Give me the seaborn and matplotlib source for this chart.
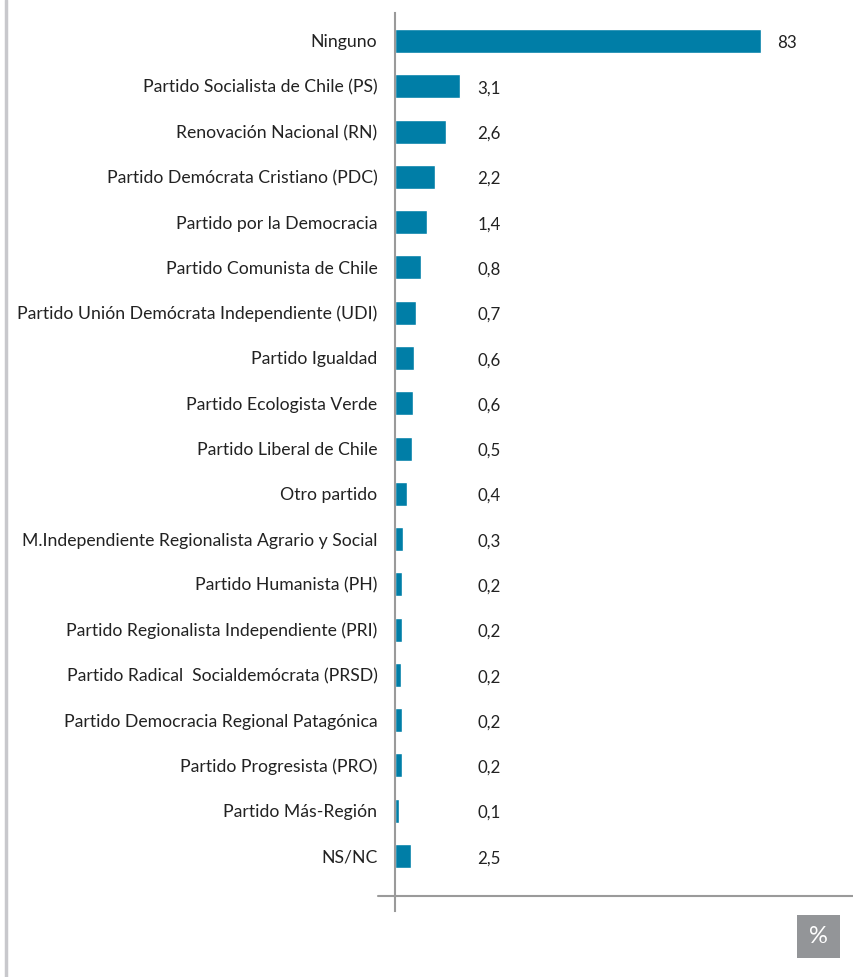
import numpy as np
import pandas as pd
import seaborn as sns
import matplotlib.pyplot as plt
from matplotlib.lines import Line2D
from matplotlib.patches import Rectangle

# Party preference (%)
partidos = [
    "Ninguno",
    "Partido Socialista de Chile (PS)",
    "Renovación Nacional (RN)",
    "Partido Demócrata Cristiano (PDC)",
    "Partido por la Democracia",
    "Partido Comunista de Chile",
    "Partido Unión Demócrata Independiente (UDI)",
    "Partido Igualdad",
    "Partido Ecologista Verde",
    "Partido Liberal de Chile",
    "Otro partido",
    "M.Independiente Regionalista Agrario y Social",
    "Partido Humanista (PH)",
    "Partido Regionalista Independiente (PRI)",
    "Partido Radical  Socialdemócrata (PRSD)",
    "Partido Democracia Regional Patagónica",
    "Partido Progresista (PRO)",
    "Partido Más-Región",
    "NS/NC",
]
valores = ["83", "3,1", "2,6", "2,2", "1,4", "0,8", "0,7", "0,6", "0,6", "0,5",
           "0,4", "0,3", "0,2", "0,2", "0,2", "0,2", "0,2", "0,1", "2,5"]
# bar lengths as drawn in the original (not proportional to the values)
largo_barra = [366, 65, 51, 40, 32, 26, 21, 19, 18, 17,
               12, 8, 7, 7, 6, 7, 7, 4, 16]

df = pd.DataFrame({"partido": partidos, "largo": largo_barra, "valor": valores})

sns.set_style("white")
plt.rcParams["font.family"] = ["Lato", "DejaVu Sans"]

W, H = 854, 977
fig = plt.figure(figsize=(W / 100, H / 100), dpi=100)
ax = fig.add_axes([395.5 / W, 1 - 911 / H, (W - 395.5) / W, (911 - 13) / H])

sns.barplot(data=df, x="largo", y="partido", color="#007ea7", saturation=1,
            width=0.53, orient="h", ax=ax)

paso = 45.28
ax.set_ylim((911 - 41) / paso, -(41 - 13) / paso)
ax.set_xlim(0, W - 395.5)

for i, (l, v) in enumerate(zip(largo_barra, valores)):
    x = l + 16 if l > 100 else 82
    ax.text(x, i + 0.05, v, ha="left", va="center", fontsize=12.2, color="#222222")

ax.set_xlabel("")
ax.set_ylabel("")
ax.set_xticks([])
ax.tick_params(axis="y", length=0, pad=13, labelsize=12.7, labelcolor="#222222")
for s in ["top", "right", "bottom"]:
    ax.spines[s].set_visible(False)
ax.spines["left"].set_color("#9a9a9a")
ax.spines["left"].set_linewidth(1.5)

# horizontal base line
fig.add_artist(Line2D([378 / W, 853 / W], [1 - 896 / H, 1 - 896 / H],
                      color="#9a9a9a", lw=1.5))
# left frame line
fig.add_artist(Line2D([6 / W, 6 / W], [0, 1], color="#c8c8cc", lw=2.5))
# % badge
fig.add_artist(Rectangle((797 / W, 1 - 958 / H), 43 / W, 43 / H,
                         facecolor="#939598", edgecolor="none",
                         transform=fig.transFigure))
fig.text(818.5 / W, 1 - 936.5 / H, "%", ha="center", va="center",
         color="white", fontsize=17)

fig.savefig("out.png", dpi=100)
